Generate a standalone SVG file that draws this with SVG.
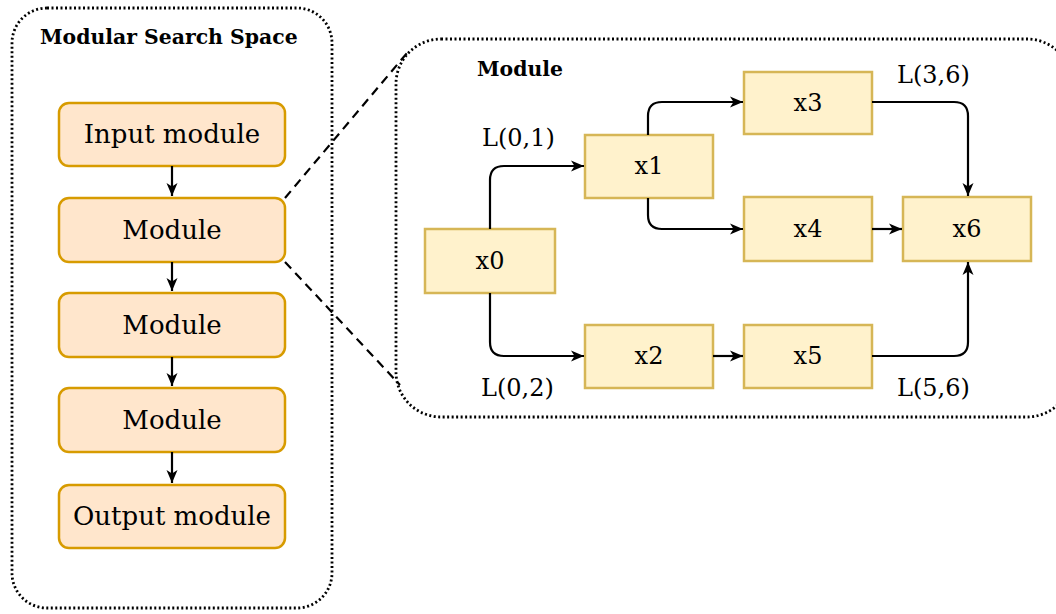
<svg xmlns="http://www.w3.org/2000/svg" width="1056" height="614" viewBox="0 0 1056 614">
<style>
.cont{fill:none;stroke:#000;stroke-width:2.8;stroke-dasharray:2 2.5}
.zoom{fill:none;stroke:#000;stroke-width:2.2;stroke-dasharray:9 6}
.lbox{fill:#ffe6cc;stroke:#d79b00;stroke-width:2.5}
.rbox{fill:#fff2cc;stroke:#d6b656;stroke-width:2.5}
.edge{fill:none;stroke:#000;stroke-width:2.2;marker-end:url(#arr)}
.t{font-family:"DejaVu Serif","Liberation Serif",serif;fill:#000}
.lt{font-size:26px;text-anchor:middle}
.rt{font-size:24px;text-anchor:middle}
.lab{font-size:24px}
.bold{font-weight:bold;font-size:20.4px}
</style>
<defs>
<marker id="arr" markerUnits="userSpaceOnUse" markerWidth="14" markerHeight="12" refX="13" refY="6" orient="auto">
<path d="M0,0.5 L13,6 L0,11.5 L3.5,6 z" fill="#000"/>
</marker>
</defs>
<rect id="searchspace" class="cont" x="12" y="8" width="320" height="600" rx="35"/>
<text class="t bold" x="40" y="44">Modular Search Space</text>
<rect id="modulecontainer" class="cont" x="396" y="39" width="676" height="378" rx="45"/>
<text class="t bold" x="477" y="76">Module</text>
<g id="zoomlines">
<path class="zoom" d="M285,198 L407,53"/>
<path class="zoom" d="M285,262 L400,385"/>
</g>
<g id="input"><rect class="lbox" x="59" y="103" width="226" height="63" rx="10"/><text class="t lt" x="172" y="143">Input module</text></g>
<g id="module1"><rect class="lbox" x="59" y="198" width="226" height="64" rx="10"/><text class="t lt" x="172" y="239">Module</text></g>
<g id="module2"><rect class="lbox" x="59" y="293" width="226" height="64" rx="10"/><text class="t lt" x="172" y="334">Module</text></g>
<g id="module3"><rect class="lbox" x="59" y="388" width="226" height="64" rx="10"/><text class="t lt" x="172" y="429">Module</text></g>
<g id="output"><rect class="lbox" x="59" y="485" width="226" height="63" rx="10"/><text class="t lt" x="172" y="525">Output module</text></g>
<g id="x0"><rect class="rbox" x="425" y="229" width="130" height="64"/><text class="t rt" x="490" y="269">x0</text></g>
<g id="x1"><rect class="rbox" x="585" y="135" width="128" height="63"/><text class="t rt" x="649" y="174">x1</text></g>
<g id="x2"><rect class="rbox" x="585" y="325" width="128" height="63"/><text class="t rt" x="649" y="364">x2</text></g>
<g id="x3"><rect class="rbox" x="744" y="72" width="128" height="62"/><text class="t rt" x="808" y="111">x3</text></g>
<g id="x4"><rect class="rbox" x="744" y="197" width="128" height="64"/><text class="t rt" x="808" y="237">x4</text></g>
<g id="x5"><rect class="rbox" x="744" y="325" width="128" height="63"/><text class="t rt" x="808" y="364">x5</text></g>
<g id="x6"><rect class="rbox" x="903" y="197" width="128" height="64"/><text class="t rt" x="967" y="237">x6</text></g>
<g id="connectors">
<path class="edge" d="M172,166 V196"/>
<path class="edge" d="M172,262 V291"/>
<path class="edge" d="M172,357 V386"/>
<path class="edge" d="M172,452 V483"/>
<path class="edge" d="M490,229 V180 Q490,166 504,166 H584"/>
<path class="edge" d="M490,293 V342 Q490,356 504,356 H584"/>
<path class="edge" d="M648,135 V116 Q648,102 662,102 H743"/>
<path class="edge" d="M648,198 V215 Q648,229 662,229 H743"/>
<path class="edge" d="M872,102 H954 Q968,102 968,116 V196"/>
<path class="edge" d="M872,229 H902"/>
<path class="edge" d="M713,356 H743"/>
<path class="edge" d="M872,356 H954 Q968,356 968,342 V262"/>
</g>
<g id="labels">
<text class="t lab" x="482" y="146">L(0,1)</text>
<text class="t lab" x="897" y="83">L(3,6)</text>
<text class="t lab" x="481" y="396">L(0,2)</text>
<text class="t lab" x="897" y="396">L(5,6)</text>
</g>
</svg>
